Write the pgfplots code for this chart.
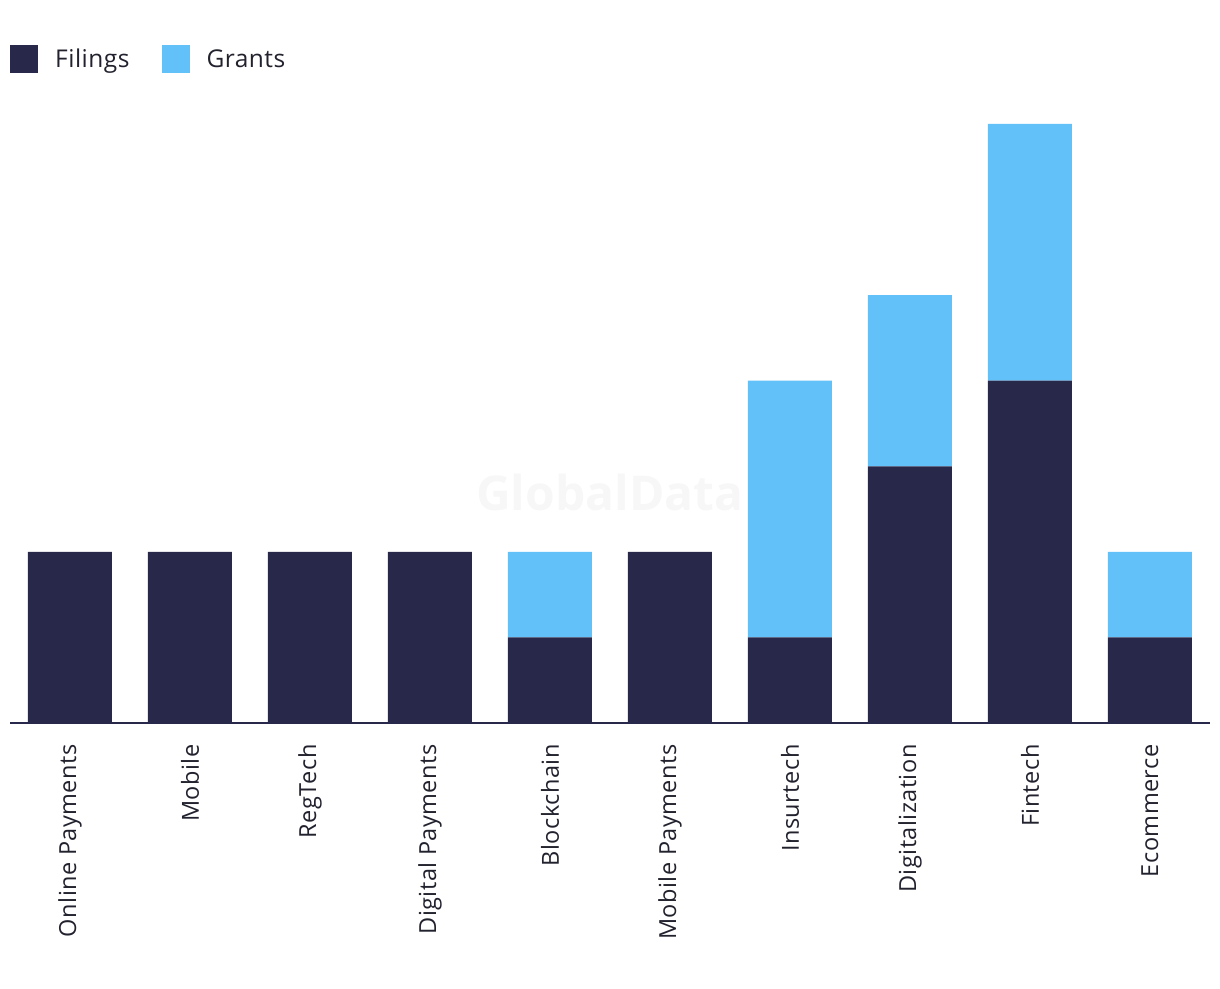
\documentclass[border=0pt]{standalone}
\usepackage{fontspec}
\setmainfont{Open Sans}
\usepackage{pgfplots}
\pgfplotsset{compat=1.18}
\definecolor{navy}{HTML}{27284A}
\definecolor{sky}{HTML}{62C1F9}
\definecolor{txt}{HTML}{22222E}
\begin{document}
\begin{tikzpicture}
\useasboundingbox (-10pt,-265pt) rectangle (1210pt,723pt);
\begin{axis}[
  at={(0pt,0pt)}, anchor=south west,
  scale only axis, width=1200pt, height=599pt,
  ybar stacked, bar width=84pt,
  xmin=-0.5, xmax=9.5, ymin=0, ymax=7,
  axis x line*=bottom, axis y line=none,
  axis line style={draw=navy, line width=1.6pt, -},
  xtick={0,...,9},
  xticklabels={Online Payments,Mobile,RegTech,Digital Payments,Blockchain,Mobile Payments,Insurtech,Digitalization,Fintech,Ecommerce},
  xticklabel style={rotate=90, anchor=east, font=\addfontfeatures{LetterSpace=2}\fontsize{23.5}{28}\selectfont, text=txt},
  major tick length=0pt,
  tick align=outside,
  xticklabel shift=18pt,
  legend columns=2,
  legend style={at={(0,1.1085)}, anchor=west, draw=none, fill=none, inner sep=0pt,
    font=\addfontfeatures{LetterSpace=2}\fontsize{24.5}{28}\selectfont, text=txt,
    nodes={inner sep=0pt, anchor=west},
    /tikz/every even column/.append style={column sep=32pt}},
  legend image code/.code={\fill[#1] (0pt,-14pt) rectangle (28pt,14pt); \path (45pt,0pt);},
  clip=false,
]
\node[font=\fontsize{48}{52}\selectfont\bfseries, text=black!3] at (axis cs:4.5,2.69) {GlobalData};
\addplot[fill=navy, draw=none] coordinates {(0,2) (1,2) (2,2) (3,2) (4,1) (5,2) (6,1) (7,3) (8,4) (9,1)};
\addplot[fill=sky, draw=none] coordinates {(0,0) (1,0) (2,0) (3,0) (4,1) (5,0) (6,3) (7,2) (8,3) (9,1)};
\legend{Filings,Grants}
\end{axis}
\end{tikzpicture}
\end{document}
